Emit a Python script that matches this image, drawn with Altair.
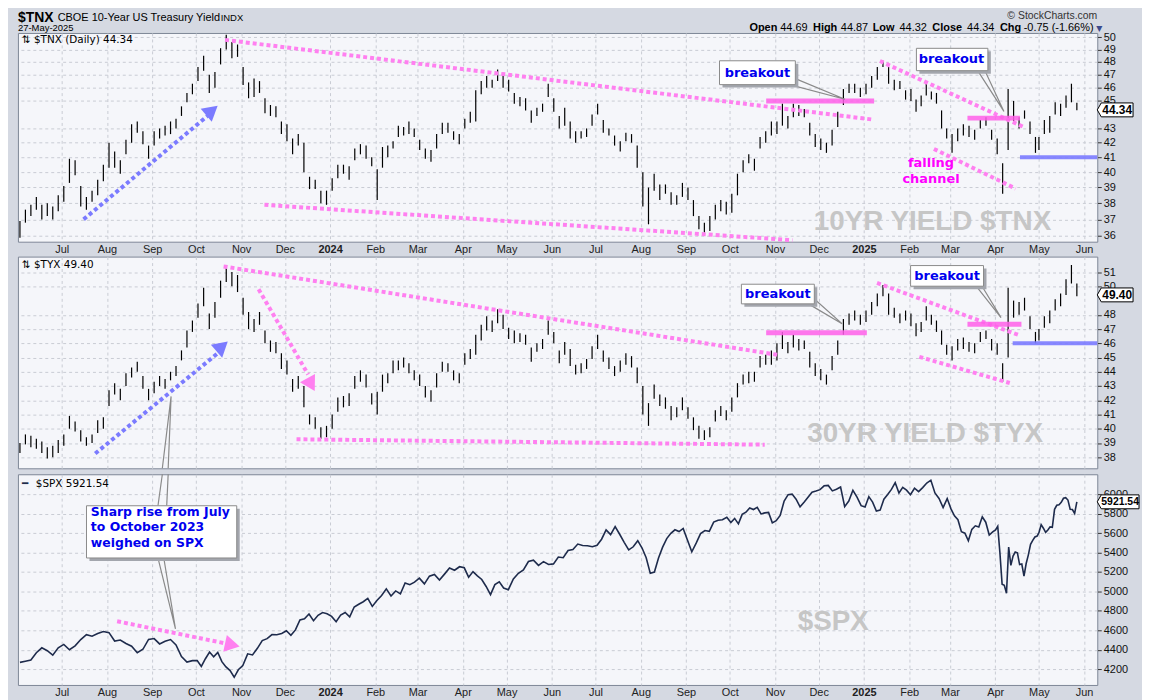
import calendar
import pandas as pd
import altair as alt

# ---------------- data ----------------
MONTHS = ["2023-06", "2023-07", "2023-08", "2023-09", "2023-10", "2023-11", "2023-12",
          "2024-01", "2024-02", "2024-03", "2024-04", "2024-05", "2024-06", "2024-07",
          "2024-08", "2024-09", "2024-10", "2024-11", "2024-12", "2025-01", "2025-02",
          "2025-03", "2025-04", "2025-05"]
LAST_DAY = 27

# $TNX daily bars (low / high), 8 per month
tnx_lo = [
    35.9, 36.8, 37.2, 37.6, 37.0, 37.2, 37.0, 37.5,
    38.1, 39.3, 39.8, 37.8, 37.6, 38.1, 38.5, 39.4,
    40.3, 40.3, 39.9, 41.2, 42.0, 42.7, 41.9, 40.9,
    41.8, 42.3, 42.5, 42.6, 43.0, 43.9, 44.9, 45.5,
    46.5, 47.3, 45.6, 46.0, 47.8, 49.0, 48.3, 48.4,
    46.2, 45.2, 45.3, 45.6, 44.1, 43.9, 43.8, 42.6,
    42.1, 41.2, 41.8, 40.0, 38.9, 38.9, 38.0, 37.9,
    38.8, 39.6, 39.9, 39.5, 40.8, 41.2, 40.9, 40.4,
    38.2, 40.3, 41.0, 41.6, 42.4, 42.5, 42.6, 42.4,
    41.5, 40.9, 40.7, 41.6, 42.6, 42.7, 42.2, 41.9,
    43.0, 43.4, 43.5, 45.5, 46.0, 46.0, 46.5, 46.0,
    45.7, 44.8, 44.6, 44.3, 43.4, 43.9, 44.2, 45.3,
    44.2, 43.0, 43.2, 42.3, 42.0, 42.3, 42.4, 43.2,
    44.0, 42.7, 42.5, 41.8, 41.4, 42.1, 42.0, 40.3,
    37.8, 36.7, 38.8, 38.2, 38.6, 37.9, 37.9, 38.4,
    38.2, 37.2, 36.4, 36.2, 36.3, 37.0, 37.5, 37.3,
    37.4, 38.5, 40.0, 40.6, 40.1, 41.6, 42.0, 42.5,
    42.6, 43.2, 43.0, 43.8, 43.9, 43.8, 42.5, 41.7,
    41.5, 41.3, 41.8, 43.1, 44.7, 45.6, 45.6, 45.3,
    45.5, 46.0, 46.6, 47.6, 46.3, 45.8, 45.9, 45.1,
    45.0, 44.2, 44.6, 45.4, 45.1, 44.8, 43.0, 42.3,
    41.3, 42.1, 42.5, 42.4, 42.2, 43.0, 43.2, 42.2,
    41.2, 38.6, 41.5, 43.5, 43.0, 43.7, 42.6, 41.3,
    41.5, 42.6, 42.7, 44.0, 43.9, 44.5, 44.9, 44.32,
]
tnx_hi = [
    36.9, 37.6, 37.9, 38.4, 37.9, 38.0, 37.8, 38.5,
    39.1, 40.9, 40.8, 39.1, 38.4, 38.8, 39.5, 40.5,
    42.0, 41.4, 40.8, 42.2, 43.3, 43.5, 42.8, 41.8,
    42.8, 43.0, 43.2, 43.5, 43.7, 44.6, 45.6, 46.3,
    47.6, 48.5, 47.0, 47.2, 49.1, 50.2, 49.6, 49.4,
    47.6, 46.4, 46.7, 46.5, 45.2, 44.7, 44.6, 43.5,
    43.3, 42.3, 42.6, 42.0, 39.7, 39.5, 38.8, 38.8,
    39.6, 40.5, 40.5, 40.4, 41.6, 41.9, 41.8, 41.0,
    40.2, 41.7, 41.8, 42.1, 43.2, 43.1, 43.5, 43.0,
    42.2, 41.6, 41.5, 42.6, 43.4, 43.4, 42.8, 42.6,
    43.7, 44.2, 45.8, 46.5, 46.9, 46.6, 47.4, 47.1,
    46.6, 45.6, 45.3, 45.2, 44.3, 44.5, 44.8, 46.3,
    45.2, 43.9, 44.5, 43.5, 42.8, 42.8, 43.0, 44.0,
    44.8, 43.6, 43.0, 42.5, 42.1, 42.7, 42.6, 41.8,
    40.0, 39.0, 39.9, 39.2, 39.2, 38.7, 38.5, 39.3,
    39.0, 38.2, 37.2, 36.8, 37.2, 37.9, 38.2, 38.1,
    38.6, 39.9, 40.8, 41.2, 40.9, 42.4, 42.8, 43.5,
    43.5, 44.8, 43.9, 44.8, 44.7, 44.4, 43.4, 42.6,
    42.3, 42.0, 42.9, 44.2, 45.9, 46.3, 46.3, 46.0,
    46.3, 46.9, 47.6, 48.1, 47.6, 46.6, 46.5, 45.8,
    45.9, 45.1, 45.4, 46.3, 45.7, 45.6, 44.3, 43.0,
    42.6, 43.0, 43.3, 43.2, 42.9, 43.6, 43.8, 42.9,
    42.3, 40.6, 45.9, 45.0, 43.8, 44.3, 43.5, 42.4,
    42.4, 43.6, 43.9, 44.9, 44.8, 45.4, 46.3, 44.87,
]

# $TYX daily bars (low / high), 8 per month
tyx_lo = [
    38.3, 38.9, 38.7, 38.6, 38.3, 37.9, 38.0, 38.3,
    38.8, 40.0, 39.8, 39.1, 38.8, 39.0, 39.7, 40.0,
    41.6, 42.4, 42.0, 43.0, 43.6, 44.0, 42.8, 42.0,
    42.5, 43.0, 42.8, 43.4, 43.7, 44.8, 45.7, 46.8,
    47.8, 48.6, 47.0, 47.8, 49.2, 50.3, 50.0, 49.6,
    48.0, 47.0, 46.8, 47.3, 46.0, 45.4, 45.3, 44.2,
    43.8, 42.6, 42.8, 41.5, 40.3, 40.0, 39.3, 39.4,
    40.0, 41.2, 41.5, 41.6, 42.8, 43.3, 42.9, 41.7,
    41.0, 42.6, 43.2, 43.9, 44.1, 44.3, 43.9, 43.4,
    43.0, 42.2, 41.9, 42.9, 44.0, 44.0, 43.4, 43.2,
    44.5, 44.9, 45.2, 46.2, 46.9, 46.8, 47.4, 47.0,
    46.3, 46.0, 46.1, 45.9, 44.7, 45.4, 45.6, 46.6,
    46.0, 44.6, 45.2, 44.4, 43.8, 43.9, 44.2, 44.9,
    45.6, 44.7, 44.2, 43.7, 44.0, 44.5, 44.3, 43.2,
    41.0, 40.2, 42.1, 41.6, 41.4, 40.6, 40.8, 41.3,
    40.7, 39.9, 39.3, 39.2, 39.4, 40.5, 40.9, 40.6,
    41.2, 42.2, 43.1, 43.2, 43.3, 44.3, 44.5, 44.5,
    44.8, 45.6, 45.3, 45.7, 45.5, 45.6, 44.3, 43.7,
    43.4, 43.1, 44.1, 45.2, 46.6, 47.3, 47.6, 47.3,
    47.5, 48.0, 48.6, 49.3, 48.0, 47.8, 47.4, 47.6,
    47.2, 46.5, 46.8, 47.6, 47.3, 46.8, 45.9, 45.2,
    44.8, 45.5, 45.6, 45.4, 45.3, 46.1, 46.3, 45.5,
    45.2, 43.3, 45.0, 47.8, 48.0, 48.3, 47.0, 46.0,
    46.2, 47.1, 47.4, 48.3, 48.6, 49.4, 50.2, 49.3,
]
tyx_hi = [
    39.0, 39.6, 39.5, 39.3, 39.1, 38.7, 38.8, 39.2,
    39.6, 40.9, 40.5, 39.9, 39.4, 39.6, 40.6, 40.8,
    42.7, 43.2, 42.8, 43.9, 44.3, 44.7, 43.7, 42.8,
    43.3, 43.7, 43.5, 44.0, 44.4, 45.5, 46.9, 47.6,
    48.8, 49.9, 48.1, 48.9, 50.4, 51.5, 51.0, 50.8,
    49.2, 48.2, 47.7, 48.2, 46.9, 46.2, 46.1, 45.3,
    44.8, 43.5, 43.7, 43.0, 41.0, 40.8, 40.1, 40.2,
    41.0, 42.2, 42.3, 42.5, 43.7, 44.1, 43.8, 42.5,
    42.6, 43.8, 43.9, 44.8, 44.8, 45.0, 44.6, 44.1,
    43.8, 43.0, 42.7, 43.9, 44.7, 44.6, 44.1, 43.9,
    45.3, 45.6, 46.6, 47.3, 47.9, 47.6, 48.4, 48.0,
    47.1, 46.9, 46.7, 46.6, 45.7, 46.0, 46.3, 47.6,
    46.8, 45.5, 46.1, 45.6, 44.5, 44.6, 44.9, 45.8,
    46.6, 45.5, 45.0, 44.4, 44.8, 45.3, 45.1, 44.3,
    43.0, 41.8, 43.1, 42.4, 42.2, 41.6, 41.5, 42.2,
    41.5, 40.8, 40.2, 39.9, 40.1, 41.3, 41.6, 41.3,
    42.2, 43.2, 43.8, 44.0, 44.0, 45.1, 45.2, 45.5,
    46.0, 46.8, 46.1, 46.6, 46.3, 46.2, 45.4, 44.6,
    44.2, 43.8, 45.1, 46.2, 47.7, 48.1, 48.3, 48.0,
    48.3, 48.9, 49.5, 50.1, 49.5, 48.5, 48.1, 48.3,
    48.1, 47.4, 47.5, 48.6, 48.0, 47.6, 46.9, 45.9,
    45.8, 46.3, 46.4, 46.1, 46.0, 46.8, 46.9, 46.3,
    46.0, 44.6, 49.9, 49.0, 48.9, 49.2, 47.9, 46.8,
    47.0, 47.9, 48.3, 49.1, 49.5, 50.5, 51.5, 50.2,
]

# $SPX closes, per month
spx_close = [
    [4270, 4282, 4295, 4370, 4420, 4390, 4345, 4420],
    [4455, 4400, 4440, 4505, 4555, 4540, 4567, 4588],
    [4576, 4490, 4500, 4464, 4437, 4370, 4405, 4507],
    [4515, 4460, 4487, 4505, 4450, 4330, 4274, 4288],
    [4288, 4229, 4308, 4376, 4327, 4373, 4278, 4224, 4186, 4117, 4194],
    [4237, 4358, 4347, 4415, 4495, 4514, 4556, 4554, 4568],
    [4595, 4549, 4604, 4707, 4719, 4768, 4698, 4754, 4783, 4770],
    [4743, 4689, 4756, 4783, 4739, 4840, 4868, 4894, 4928, 4846],
    [4906, 4958, 5026, 4953, 5005, 4975, 5087, 5069, 5096],
    [5137, 5078, 5157, 5175, 5117, 5178, 5241, 5218, 5254],
    [5243, 5147, 5204, 5160, 5123, 5051, 4967, 5070, 5099, 5035],
    [5018, 5128, 5187, 5222, 5308, 5321, 5268, 5306, 5277],
    [5283, 5354, 5347, 5421, 5431, 5487, 5473, 5469, 5460],
    [5475, 5537, 5633, 5584, 5667, 5588, 5505, 5427, 5459, 5522],
    [5446, 5346, 5186, 5199, 5344, 5455, 5543, 5597, 5634, 5616, 5648],
    [5528, 5408, 5496, 5595, 5626, 5618, 5713, 5732, 5738, 5762],
    [5709, 5751, 5695, 5792, 5815, 5859, 5842, 5864, 5797, 5808, 5813, 5705],
    [5728, 5782, 5929, 5995, 6001, 5949, 5870, 5917, 5969, 6021, 6032],
    [6047, 6086, 6090, 6034, 6051, 6074, 5872, 5930, 6040, 5970, 5882],
    [5868, 5975, 5918, 5827, 5836, 5949, 5997, 6049, 6119, 6012, 6071, 6041],
    [5995, 6061, 6026, 6068, 6115, 6144, 6013, 5956, 5862, 5955],
    [5849, 5778, 5738, 5614, 5599, 5521, 5638, 5675, 5663, 5767, 5712, 5580, 5612],
    [5633, 5670, 5397, 5074, 5062, 4982, 5457, 5268, 5363, 5405, 5396, 5276, 5282,
     5158, 5287, 5376, 5484, 5525, 5560, 5569],
    [5604, 5687, 5650, 5607, 5631, 5664, 5660, 5844, 5886, 5892, 5916, 5958, 5964,
     5940, 5845, 5842, 5802, 5921.54],
]

TNX_LAST, TYX_LAST, SPX_LAST = 44.34, 49.40, 5921.54

# annotation lines (date, value)
tnx_pink_dotted = [
    [("2023-10-21", 49.78), ("2025-01-06", 43.65)],
    [("2023-11-17", 37.9), ("2024-11-13", 35.75)],
    [("2025-01-12", 48.07), ("2025-04-21", 43.08)],
    [("2025-02-18", 41.57), ("2025-04-15", 38.93)],
]
tnx_pink_solid = [
    [("2024-10-26", 45.0), ("2025-01-08", 45.0)],
    [("2025-03-13", 43.74), ("2025-04-18", 43.74)],
]
tnx_blue_dotted = [[("2023-07-16", 37.0), ("2023-10-09", 43.9)]]
tnx_blue_head = [("2023-10-12", 44.3, 50)]
tnx_blue_solid = [[("2025-04-18", 41.0), ("2025-06-10", 41.0)]]
tnx_boxes = [("2024-09-24", "2024-11-15", 48.09, 46.23),
             ("2025-02-06", "2025-03-27", 49.09, 47.31)]
tnx_box_text = [("2024-10-20", 47.15, "breakout"), ("2025-03-02", 48.19, "breakout")]
tnx_wedges = [
    [("2024-11-15", 46.69), ("2024-12-19", 45.13), ("2024-11-11", 46.23)],
    [("2025-03-20", 47.31), ("2025-04-07", 44.23), ("2025-03-25", 47.31)],
]
tnx_note = [("2025-02-16", 40.6, "falling\nchannel")]
tnx_mark = [("2025-02-17", 36.85, "10YR YIELD $TNX")]

tyx_pink_dotted = [
    [("2023-10-20", 51.4), ("2024-11-04", 45.17)],
    [("2023-12-09", 39.26), ("2024-10-25", 38.88)],
    [("2025-01-10", 50.24), ("2025-04-18", 46.55)],
    [("2025-02-08", 45.05), ("2025-04-11", 43.21)],
    [("2023-11-13", 49.8), ("2023-12-17", 43.8)],
]
tyx_pink_head = [("2023-12-19", 43.1, 151)]
tyx_pink_solid = [
    [("2024-10-26", 46.74), ("2025-01-03", 46.74)],
    [("2025-03-13", 47.34), ("2025-04-19", 47.34)],
]
tyx_blue_dotted = [[("2023-07-24", 38.26), ("2023-10-16", 45.3)]]
tyx_blue_head = [("2023-10-19", 45.79, 49)]
tyx_blue_solid = [[("2025-04-13", 46.0), ("2025-06-10", 46.0)]]
tyx_boxes = [("2024-10-09", "2024-11-28", 50.15, 48.77),
             ("2025-02-02", "2025-03-24", 51.46, 50.01)]
tyx_box_text = [("2024-11-03", 49.46, "breakout"), ("2025-02-27", 50.74, "breakout")]
tyx_wedges = [
    [("2024-11-24", 48.77), ("2024-12-17", 47.38), ("2024-11-28", 49.11)],
    [("2025-03-19", 50.01), ("2025-04-05", 47.8), ("2025-03-23", 50.01)],
    [("2023-09-08", 37.22), ("2023-09-14", 42.27), ("2023-09-12", 37.22)],
]
tyx_mark = [("2025-02-12", 39.64, "30YR YIELD $TYX")]

spx_pink_dotted = [[("2023-08-08", 4693), ("2023-10-23", 4460)]]
spx_pink_head = [("2023-10-26", 4450, 102)]
spx_boxes = [("2023-07-18", "2023-10-29", 5881, 5344)]
spx_box_text = [("2023-07-21", 5880, "Sharp rise from July\nto October 2023\nweighed on SPX")]
spx_wedges = [
    [("2023-09-05", 5881), ("2023-09-08", 6205)],
    [("2023-09-12", 6205), ("2023-09-11", 5881)],
    [("2023-09-05", 5344), ("2023-09-17", 4615), ("2023-09-09", 5344)],
]
spx_mark = [("2024-12-11", 4686, "$SPX")]

# ---------------- style ----------------
FONT = "Liberation Sans"
FONT2 = "DejaVu Sans"
BG = "#d5d9e2"
PLOT_BG = "#f5f6fa"
GRID = "#c9ccd4"
PINK = "#ff80f0"
PINK_SOLID = "#ff5fe9"
BLUE = "#7b7bff"
BOXTXT = "#0000ee"
WEDGE = "#8a8a8a"
W = 1086
H1, H2, H3 = 210, 213, 212


def iso(d):
    return pd.Timestamp(d).strftime("%Y-%m-%dT%H:%M:%S")


def month_dates(ym, n):
    y, m = int(ym[:4]), int(ym[5:7])
    start = pd.Timestamp(year=y, month=m, day=1)
    if ym == MONTHS[-1]:
        offs = [k * (LAST_DAY - 1) / (n - 1) for k in range(n)]
    else:
        dim = calendar.monthrange(y, m)[1]
        offs = [(k + 0.5) * dim / n - 0.5 for k in range(n)]
    return [iso(start + pd.Timedelta(days=o)) for o in offs]


bar_dates = [d for ym in MONTHS for d in month_dates(ym, 8)]
tnx_df = pd.DataFrame({"date": bar_dates, "val": tnx_lo, "val2": tnx_hi})
tyx_df = pd.DataFrame({"date": bar_dates, "val": tyx_lo, "val2": tyx_hi})
spx_df = pd.DataFrame({
    "date": [d for ym, vals in zip(MONTHS, spx_close) for d in month_dates(ym, len(vals))],
    "val": [v for vals in spx_close for v in vals],
})

x_scale = alt.Scale(domain=[alt.DateTime(year=2023, month=6, date=1),
                            alt.DateTime(year=2025, month=6, date=10)])
x_ticks = [alt.DateTime(year=2023 + (6 + i) // 12, month=(6 + i) % 12 + 1, date=1)
           for i in range(24)]


def x_axis(labels):
    return alt.Axis(values=x_ticks, labels=labels,
                    labelExpr="month(datum.value) == 0 ? timeFormat(datum.value, '%Y') : timeFormat(datum.value, '%b')",
                    labelFontWeight={"condition": {"test": "month(datum.value) == 0", "value": "bold"},
                                     "value": "normal"},
                    grid=True, gridDash=[3, 3], gridColor=GRID, ticks=False, domain=False,
                    labelPadding=2, labelFont=FONT, labelFontSize=11, labelColor="#222",
                    labelOverlap=False, labelFlush=False, title=None)


def y_axis(values, fmt=None):
    kw = {}
    if fmt:
        kw["format"] = fmt
    return alt.Axis(orient="right", values=values, grid=True, gridDash=[3, 3], gridColor=GRID,
                    tickSize=4, tickColor="#333", domain=False, labelFont=FONT, labelFontSize=11,
                    labelColor="#111", labelPadding=2, labelOverlap=False, labelFlush=False,
                    title=None, **kw)


def make_panel(df, kind, yscale, yaxis, xaxis, height, extras):
    def X(field="date"):
        return alt.X(f"{field}:T", scale=x_scale, axis=xaxis)

    def Y(field="val"):
        return alt.Y(f"{field}:Q", scale=yscale, axis=yaxis)

    def seg_df(segs):
        rows = []
        for g, seg in enumerate(segs):
            for o, (d, v) in enumerate(seg):
                rows.append({"grp": g, "ord": o, "date": iso(d), "val": v})
        return pd.DataFrame(rows)

    def lines(segs, color, width, dash=None, opacity=1.0):
        kw = dict(color=color, strokeWidth=width, opacity=opacity, strokeCap="butt")
        if dash:
            kw["strokeDash"] = dash
        return alt.Chart(seg_df(segs)).mark_line(**kw).encode(
            x=X(), y=Y(), detail="grp:N", order="ord:Q")

    def heads(items, color):
        d = pd.DataFrame([{"date": iso(a), "val": b, "ang": c} for a, b, c in items])
        return alt.Chart(d).mark_point(shape="triangle-up", filled=True, size=300,
                                       color=color, opacity=1).encode(
            x=X(), y=Y(), angle=alt.Angle("ang:Q", scale=None))

    def boxes(items):
        d = pd.DataFrame([{"date": iso(a), "date2": iso(b), "val": c, "val2": e}
                          for a, b, c, e in items])
        shadow = alt.Chart(d).mark_rect(color="#a3a6ad", xOffset=3, x2Offset=3,
                                        yOffset=3, y2Offset=3).encode(
            x=X(), x2="date2:T", y=Y(), y2="val2:Q")
        box = alt.Chart(d).mark_rect(fill="white", stroke=WEDGE, strokeWidth=1).encode(
            x=X(), x2="date2:T", y=Y(), y2="val2:Q")
        return [shadow, box]

    def texts(items, **kw):
        d = pd.DataFrame([{"date": iso(a), "val": b, "txt": c} for a, b, c in items])
        return alt.Chart(d).mark_text(**kw).encode(x=X(), y=Y(), text="txt:N")

    def ptext(txt, x, y, **kw):
        return alt.Chart(pd.DataFrame({"t": [txt]})).mark_text(**kw).encode(
            x=alt.value(x), y=alt.value(y), text="t:N")

    def price_box(value, label, bw, fs):
        u = bw / 2.0
        bx = -1 + 4.0 / u
        hy = 7.0 / u
        path = f"M-1,0L{bx:.3f},{-hy:.3f}L1,{-hy:.3f}L1,{hy:.3f}L{bx:.3f},{hy:.3f}Z"
        d = pd.DataFrame({"val": [value], "lbl": [label]})
        shape = alt.Chart(d).mark_point(shape=path, size=bw * bw, filled=True, fill="white",
                                        stroke="black", strokeWidth=1, opacity=1).encode(
            x=alt.value(W + u), y=Y())
        txt = alt.Chart(d).mark_text(font=FONT, fontSize=fs, fontWeight="bold",
                                     color="black").encode(
            x=alt.value(W + 2 + u), y=Y(), text="lbl:N")
        return [shape, txt]

    layers = []
    for t in extras.get("mark", []):
        layers.append(texts([t], font=FONT, fontSize=28, fontWeight="bold", color="#c6c6c6",
                            baseline="middle"))
    if kind == "bars":
        layers.append(alt.Chart(df).mark_rule(color="black", strokeWidth=1.2).encode(
            x=X(), y=Y(), y2="val2:Q"))
    else:
        layers.append(alt.Chart(df).mark_line(color="#1e2b4c", strokeWidth=1.6).encode(
            x=X(), y=Y()))
    if extras.get("pink_dotted"):
        layers.append(lines(extras["pink_dotted"], PINK, 4, [4, 3]))
    if extras.get("pink_head"):
        layers.append(heads(extras["pink_head"], PINK))
    if extras.get("pink_solid"):
        layers.append(lines(extras["pink_solid"], PINK_SOLID, 5, None, 0.85))
    if extras.get("blue_dotted"):
        layers.append(lines(extras["blue_dotted"], BLUE, 4, [4, 3]))
    if extras.get("blue_head"):
        layers.append(heads(extras["blue_head"], BLUE))
    if extras.get("blue_solid"):
        layers.append(lines(extras["blue_solid"], BLUE, 4, None, 0.9))
    if extras.get("wedges"):
        layers.append(lines(extras["wedges"], WEDGE, 1.2))
    if extras.get("boxes"):
        layers.extend(boxes(extras["boxes"]))
    if extras.get("box_text"):
        layers.append(texts(extras["box_text"], font=FONT2, fontSize=13, fontWeight="bold",
                            color=BOXTXT, baseline="middle", align="center"))
    if extras.get("callout"):
        layers.append(texts(extras["callout"], font=FONT2, fontSize=12.5, fontWeight="bold",
                            color=BOXTXT, baseline="top", align="left", lineBreak="\n",
                            lineHeight=15.5))
    if extras.get("note"):
        layers.append(texts(extras["note"], font=FONT2, fontSize=13, fontWeight="bold",
                            color="#ff00ff", baseline="middle", align="center",
                            lineBreak="\n", lineHeight=16))
    for (txt, x, y, kw) in extras.get("ptexts", []):
        layers.append(ptext(txt, x, y, **kw))
    if extras.get("price"):
        layers.extend(price_box(*extras["price"]))
    return alt.layer(*layers).properties(width=W, height=height)


lbl = dict(font=FONT2, fontSize=10.5, align="left", baseline="middle", color="black")
hdr = dict(font=FONT, fontSize=11, align="left", baseline="alphabetic", color="black")
hdrb = dict(hdr, fontWeight="bold")
hdrtop = dict(font=FONT, align="left", baseline="top", color="black")

p1 = make_panel(
    tnx_df, "bars",
    alt.Scale(type="log", domain=[35.66, 50.35], nice=False, zero=False),
    y_axis([36, 37, 38, 39, 40, 41, 42, 43, 45, 46, 47, 48, 49, 50]),
    x_axis(True), H1,
    {
        "mark": tnx_mark,
        "pink_dotted": tnx_pink_dotted, "pink_solid": tnx_pink_solid,
        "blue_dotted": tnx_blue_dotted, "blue_head": tnx_blue_head,
        "blue_solid": tnx_blue_solid, "wedges": tnx_wedges, "boxes": tnx_boxes,
        "box_text": tnx_box_text, "note": tnx_note,
        "ptexts": [
            ("⇅ $TNX (Daily) 44.34", 4, 7, lbl),
            ("$TNX", 0, -22, dict(hdrtop, fontSize=14, fontWeight="bold")),
            ("CBOE 10-Year US Treasury Yield", 40, -21, dict(hdrtop, fontSize=11)),
            ("INDX", 204, -20, dict(hdrtop, fontSize=9.5)),
            ("27-May-2025", 0, -1.5, dict(hdr, fontSize=9.5)),
            ("© StockCharts.com", W, -22, dict(hdrtop, align="right", fontSize=10.5,
                                              color="#333")),
            ("Open", 736, -2, hdrb), ("44.69", 767, -2, hdr),
            ("High", 800, -2, hdrb), ("44.87", 828, -2, hdr),
            ("Low", 860, -2, hdrb), ("44.32", 887, -2, hdr),
            ("Close", 920, -2, hdrb), ("44.34", 955, -2, hdr),
            ("Chg", 988, -2, hdrb), ("-0.75 (-1.66%)", 1012, -2, hdr),
            ("▼", W - 1, -2, dict(hdr, font=FONT2, fontSize=8, color="#3b4a8c")),
        ],
        "price": (TNX_LAST, "44.34", 36, 12),
    },
)

p2 = make_panel(
    tyx_df, "bars",
    alt.Scale(domain=[37.22, 52.09], nice=False, zero=False),
    y_axis([38, 39, 40, 41, 42, 43, 44, 45, 46, 47, 48, 50, 51]),
    x_axis(False), H2,
    {
        "mark": tyx_mark,
        "pink_dotted": tyx_pink_dotted, "pink_head": tyx_pink_head,
        "pink_solid": tyx_pink_solid,
        "blue_dotted": tyx_blue_dotted, "blue_head": tyx_blue_head,
        "blue_solid": tyx_blue_solid, "wedges": tyx_wedges, "boxes": tyx_boxes,
        "box_text": tyx_box_text,
        "ptexts": [("⇅ $TYX 49.40", 4, 8, lbl)],
        "price": (TYX_LAST, "49.40", 36, 12),
    },
)

p3 = make_panel(
    spx_df, "line",
    alt.Scale(domain=[4038, 6205], nice=False, zero=False),
    y_axis([4200, 4400, 4600, 4800, 5000, 5200, 5400, 5600, 5800, 6000], fmt="d"),
    x_axis(True), H3,
    {
        "mark": spx_mark,
        "pink_dotted": spx_pink_dotted, "pink_head": spx_pink_head,
        "wedges": spx_wedges, "boxes": spx_boxes, "callout": spx_box_text,
        "ptexts": [
            ("━", 4, 10, dict(lbl, color="#1e2b4c")),
            ("$SPX 5921.54", 18, 10, lbl),
        ],
        "price": (SPX_LAST, "5921.54", 42, 10.5),
    },
)

chart = alt.vconcat(p1, p2, p3, spacing=0, background=BG,
                    padding={"left": 8, "top": 0, "right": 0, "bottom": 0}).configure_view(
    fill=PLOT_BG, stroke="#7e8696", strokeWidth=1)

chart.save("out.html", embed_options={"renderer": "svg", "actions": False})
